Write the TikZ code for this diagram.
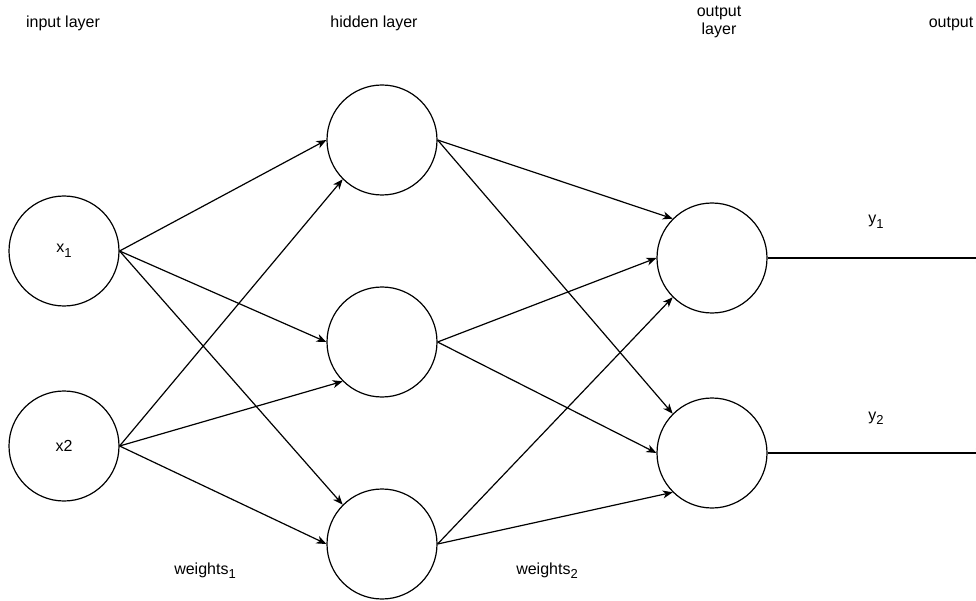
\documentclass[tikz,border=0pt]{standalone}
\usepackage{fontspec}
\setmainfont{Liberation Sans}
\usetikzlibrary{arrows.meta}
\newcommand{\mysub}[1]{\raisebox{-4.5pt}{\fontsize{13}{15}\selectfont #1}}
\begin{document}
\begin{tikzpicture}[x=1pt,y=-1pt,
  neuron/.style={circle,draw,line width=1.2pt,minimum size=110pt,inner sep=0pt,font=\fontsize{16}{19}\selectfont},
  conn/.style={line width=1.2pt,-{Stealth[length=10pt,width=8pt,inset=3pt]}},
  lbl/.style={inner sep=0pt,font=\fontsize{16}{18.4}\selectfont}]
\useasboundingbox (0,0) rectangle (976,601);

% neurons
\node[neuron] (x1) at (64,251) {x\mysub{1}};
\node[neuron] (x2) at (64,446) {x2};
\node[neuron] (h1) at (382,140) {};
\node[neuron] (h2) at (382,342) {};
\node[neuron] (h3) at (382,544) {};
\node[neuron] (o1) at (712,258) {};
\node[neuron] (o2) at (712,453) {};
\coordinate (e1) at (986,258);
\coordinate (e2) at (986,453);

% layer labels
\node[lbl,anchor=base] (tin) at (63,28) {input layer};
\node[lbl,anchor=base] (thid) at (374,28) {hidden layer};
\node[lbl,align=center] (tout) at (719,22) {output\\layer};
\node[lbl,anchor=base] (toutput) at (951,28) {output};

% edge labels
\node[lbl,anchor=base] (ly1) at (876,224) {y\mysub{1}};
\node[lbl,anchor=base] (ly2) at (876,420) {y\mysub{2}};
\node[lbl,anchor=base] (w1) at (205,574) {weights\mysub{1}};
\node[lbl,anchor=base] (w2) at (547,574) {weights\mysub{2}};

% input -> hidden
\draw[conn] (x1.east) -- (h1.west);
\draw[conn] (x1.east) -- (h2.west);
\draw[conn] (x1.east) -- (h3.north west);
\draw[conn] (x2.east) -- (h1.south west);
\draw[conn] (x2.east) -- (h2.south west);
\draw[conn] (x2.east) -- (h3.west);

% hidden -> output
\draw[conn] (h1.east) -- (o1.north west);
\draw[conn] (h2.east) -- (o1.west);
\draw[conn] (h3.east) -- (o1.south west);
\draw[conn] (h1.east) -- (o2.north west);
\draw[conn] (h2.east) -- (o2.west);
\draw[conn] (h3.east) -- (o2.south west);

% outputs
\draw[conn] (o1.east) -- (e1);
\draw[conn] (o2.east) -- (e2);
\end{tikzpicture}
\end{document}
